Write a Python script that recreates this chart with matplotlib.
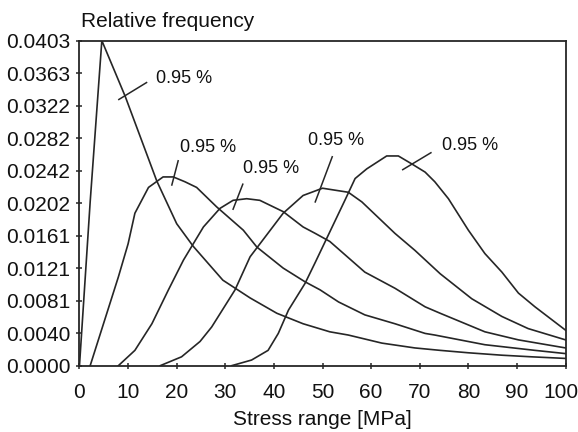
import matplotlib
matplotlib.use('Agg')
import matplotlib.pyplot as plt
from matplotlib.transforms import ScaledTranslation

plt.rcParams['font.family'] = ['Liberation Sans', 'DejaVu Sans']

# five stress range spectra (relative frequency)
x1 = [0, 2.2, 4.6, 9.4, 15.9, 20.0, 23.4, 29.5, 35.1, 40.6, 46, 51.5, 55.3, 62.2, 69, 74.2, 80, 86.9, 93, 100]
y1 = [0, 0.0203, 0.0403, 0.0334, 0.0229, 0.0176, 0.0148, 0.0106, 0.0084, 0.0065, 0.0052, 0.0042, 0.0038,
      0.0028, 0.0022, 0.0019, 0.0016, 0.0013, 0.0011, 0.0009]

x2 = [2.2, 8, 10, 11.4, 12.8, 14.2, 17.2, 19.3, 21.7, 24.1, 28.2, 33.7, 36.5, 41.9, 46.4, 49.5, 53.3,
      58.7, 64.9, 71.1, 73.1, 83.4, 93.7, 100]
y2 = [0, 0.011, 0.0151, 0.0189, 0.0205, 0.0221, 0.0234, 0.0234, 0.0228, 0.0221, 0.0197, 0.0168, 0.0147,
      0.0121, 0.0104, 0.0094, 0.0079, 0.0063, 0.0052, 0.0040, 0.0038, 0.0026, 0.0019, 0.0015]

x3 = [8, 11.4, 14.9, 18.3, 21.4, 25.5, 28.9, 31.6, 34.4, 37.1, 41.9, 46, 48.5, 51.5, 58.7, 64.9, 71.1,
      74.2, 83.4, 90.3, 100]
y3 = [0, 0.0019, 0.0052, 0.0094, 0.0131, 0.0172, 0.0195, 0.0205, 0.0207, 0.0205, 0.0191, 0.0172, 0.0164,
      0.0154, 0.0116, 0.0096, 0.0073, 0.0065, 0.0042, 0.0032, 0.0022]

x4 = [16.6, 21, 24.8, 27.2, 32, 35.1, 41.9, 46, 50, 55.3, 58.1, 64.9, 69, 74.2, 80.7, 86.9, 92.3, 100]
y4 = [0, 0.0011, 0.003, 0.0048, 0.0094, 0.0135, 0.0189, 0.0211, 0.022, 0.0215, 0.0203, 0.0164, 0.0143,
      0.0114, 0.0083, 0.0061, 0.0046, 0.0032]

x5 = [31.3, 35.4, 38.8, 40.9, 43, 46.4, 48.5, 54.6, 56.7, 59.1, 63.2, 65.6, 68.4, 71.1, 73.1, 75.9, 80,
      83.4, 86.9, 90.3, 93.7, 100]
y5 = [0, 0.0007, 0.0019, 0.004, 0.0069, 0.0102, 0.0128, 0.0205, 0.0232, 0.0244, 0.026, 0.026, 0.025,
      0.024, 0.0228, 0.0207, 0.0168, 0.0139, 0.0116, 0.009, 0.0073, 0.0044]

curves = [(x1, y1), (x2, y2), (x3, y3), (x4, y4), (x5, y5)]

# label text position, leader line start / end
label_text = '0.95 %'
label_pos = [(15.7, 0.0356), (20.7, 0.0271), (33.6, 0.0245), (47.0, 0.0279), (74.6, 0.0273)]
leader_from = [(13.8, 0.0351), (20.3, 0.0254), (33.6, 0.0225), (52.0, 0.0259), (72.3, 0.0264)]
leader_to = [(8.1, 0.0330), (19.0, 0.0224), (31.6, 0.0194), (48.5, 0.0203), (66.5, 0.0243)]

y_ticks = [0.0, 0.00403, 0.00806, 0.01209, 0.01612, 0.02015, 0.02418, 0.02821, 0.03224, 0.03627, 0.0403]
y_tick_labels = ['0.0000', '0.0040', '0.0081', '0.0121', '0.0161', '0.0202', '0.0242', '0.0282',
                 '0.0322', '0.0363', '0.0403']
x_ticks = [0, 10, 20, 30, 40, 50, 60, 70, 80, 90, 100]

line_col = '#262626'

fig = plt.figure(figsize=(5.78, 4.32), dpi=100)
ax = fig.add_axes([0.1375, 0.1535, 0.841, 0.7525])

for xs, ys in curves:
    ax.plot(xs, ys, color=line_col, lw=1.2)

for (tx, ty), (ax0, ay0), (ax1, ay1) in zip(label_pos, leader_from, leader_to):
    ax.plot([ax0, ax1], [ay0, ay1], color=line_col, lw=1.1)
    ax.text(tx, ty, label_text, fontsize=13, va='center', ha='left', color='#111111')

ax.set_xlim(0, 100)
ax.set_ylim(0, 0.0403)
ax.set_xticks(x_ticks)
ax.set_yticks(y_ticks)
ax.set_yticklabels(y_tick_labels)
ax.tick_params(direction='inout', length=5, width=1.1, colors=line_col, labelsize=15,
               labelcolor='#111111', pad=4)
ax.tick_params(axis='x', pad=10)
for sp in ax.spines.values():
    sp.set_color(line_col)
    sp.set_linewidth(1.3)

# keep the "100" inside the figure edge
last = ax.get_xticklabels()[-1]
last.set_transform(last.get_transform() + ScaledTranslation(-5 / 100, 0, fig.dpi_scale_trans))

ax.set_xlabel('Stress range [MPa]', fontsize=15, color='#111111', labelpad=6)
fig.text(81 / 578, 1 - 21.7 / 432, 'Relative frequency', fontsize=15, va='center', ha='left',
         color='#111111')

fig.savefig('out.png', dpi=100)
